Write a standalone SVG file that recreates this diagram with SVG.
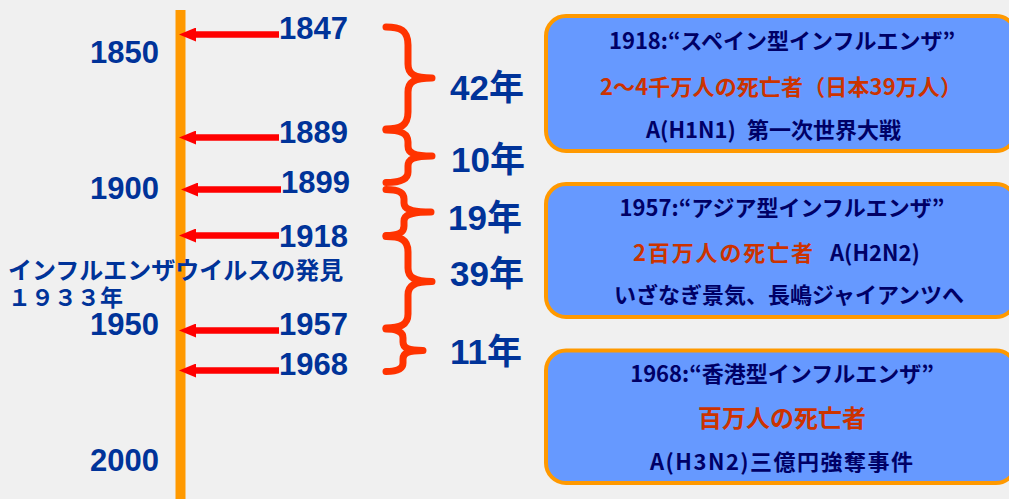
<svg xmlns="http://www.w3.org/2000/svg" width="1009" height="499" viewBox="0 0 1009 499">
<style>
.lbl{font-family:"Liberation Sans","Noto Sans CJK JP",sans-serif;font-weight:bold;fill:#003399}
.yr{font-size:31px}
.gap{font-size:35px}
.jp{font-family:"Noto Sans CJK JP",sans-serif;font-weight:bold;font-size:24px;fill:#003399}
.box rect{fill:#6699ff;stroke:#ff9900;stroke-width:4}
.box text{font-family:"Noto Sans CJK JP",sans-serif;font-weight:bold;font-size:22px;fill:#000066}
.box text.red{fill:#cc3300}
.arr line{stroke:#ff0000;stroke-width:6.5}
.brace path{fill:none;stroke:#ff3300;stroke-width:7;stroke-linecap:round;stroke-linejoin:round}
</style>
<defs>
<marker id="ah" viewBox="0 0 17 14" refX="2" refY="7" markerWidth="17" markerHeight="14" markerUnits="userSpaceOnUse" orient="auto">
<path d="M0,0 L17,7 L0,14 z" fill="#ff0000"/>
</marker>
</defs>
<rect x="0" y="0" width="1009" height="499" fill="#f0f0f0"/>

<g id="timeline">
<rect x="175.5" y="10" width="10" height="489" fill="#ff9900"/>
</g>

<g id="axis-labels" class="lbl yr">
<text x="90" y="63">1850</text>
<text x="90" y="199">1900</text>
<text x="90" y="335">1950</text>
<text x="90" y="471">2000</text>
</g>

<g id="discovery" class="jp">
<text x="8" y="279">インフルエンザウイルスの発見</text>
<text x="8" y="306" style="font-size:23px">１９３３年</text>
</g>

<g id="connectors" class="arr">
<line x1="279" y1="34.5" x2="194" y2="34.5" marker-end="url(#ah)"/>
<line x1="279" y1="137.5" x2="194" y2="137.5" marker-end="url(#ah)"/>
<line x1="281" y1="189.5" x2="196" y2="189.5" marker-end="url(#ah)"/>
<line x1="279" y1="235.5" x2="194" y2="235.5" marker-end="url(#ah)"/>
<line x1="279" y1="330.5" x2="194" y2="330.5" marker-end="url(#ah)"/>
<line x1="279" y1="370.5" x2="194" y2="370.5" marker-end="url(#ah)"/>
</g>

<g id="years" class="lbl yr">
<text x="279" y="39">1847</text>
<text x="279" y="143">1889</text>
<text x="281" y="193">1899</text>
<text x="279" y="247">1918</text>
<text x="279" y="335">1957</text>
<text x="279" y="375">1968</text>
</g>

<g id="braces" class="brace">
<path d="M386,27 C400,27 408,30 408,45 L408,64 C408,74 414,78 432,78 C414,78 408,82 408,92 L408,112 C408,126 400,129 386,129"/>
<path d="M386,130 C400,130 408,133 408,142 L408,146 C408,153 414,156 432,156 C414,156 408,159 408,166 L408,172 C408,180 400,182.5 386,182.5"/>
<path d="M386,189.5 C398,189.5 404,192 404,199 L404,203 C404,209 410,212 431,212 C410,212 404,215 404,221 L404,226 C404,233 398,235.5 386,235.5"/>
<path d="M386,236.5 C400,236.5 408,239 408,252 L408,268 C408,277 414,281.5 432,281.5 C414,281.5 408,286 408,295 L408,314 C408,325 400,328 386,328"/>
<path d="M386,329 C397,329 403,332 403,338 L403,342 C403,348 408,350.5 423,350.5 C408,350.5 403,353 403,359 L403,363 C403,369 397,371.5 386,371.5"/>
</g>

<g id="intervals" class="lbl gap">
<text x="450" y="100">42年</text>
<text x="451" y="172">10年</text>
<text x="448" y="230">19年</text>
<text x="450" y="286">39年</text>
<text x="450" y="364">11年</text>
</g>

<g id="box1918" class="box">
<rect x="546" y="16" width="470" height="135" rx="20"/>
<text x="782" y="49" text-anchor="middle">1918:“スペイン型インフルエンザ”</text>
<text x="600" y="95" class="red" textLength="362">2～4千万人の死亡者（日本39万人）</text>
<text y="138"><tspan x="646">A(H1N1)</tspan><tspan x="742"> 第一次世界大戦</tspan></text>
</g>

<g id="box1957" class="box">
<rect x="546" y="184" width="470" height="133" rx="20"/>
<text x="782" y="216" text-anchor="middle">1957:“アジア型インフルエンザ”</text>
<text x="633" y="261" class="red" textLength="180">2百万人の死亡者</text>
<text x="830" y="261">A(H2N2)</text>
<text x="789" y="303" text-anchor="middle">いざなぎ景気、長嶋ジャイアンツへ</text>
</g>

<g id="box1968" class="box">
<rect x="546" y="350.5" width="470" height="132.5" rx="20"/>
<text x="782" y="382" text-anchor="middle">1968:“香港型インフルエンザ”</text>
<text x="782" y="427" text-anchor="middle" class="red" style="font-size:24px">百万人の死亡者</text>
<text x="650" y="470" textLength="263">A(H3N2)三億円強奪事件</text>
</g>
</svg>
